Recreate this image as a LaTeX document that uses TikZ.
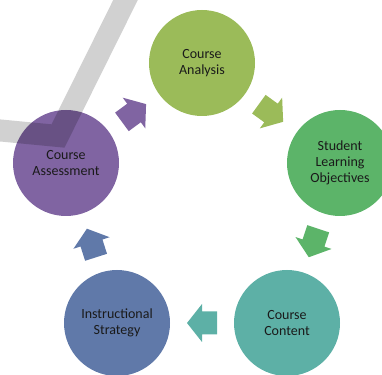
\documentclass[tikz,border=0pt]{standalone}
\usepackage{fontspec}
\setmainfont{Carlito}
\definecolor{AnalysisGreen}{HTML}{9BBB59}
\definecolor{ObjectiveGreen}{HTML}{5CB469}
\definecolor{ContentTeal}{HTML}{5DB0A6}
\definecolor{StrategyBlue}{HTML}{6079A9}
\definecolor{AssessPurple}{HTML}{8064A2}
\definecolor{LabelInk}{HTML}{1A1A1A}
\usetikzlibrary{calc}
\tikzset{
  stageNode/.style={circle, minimum size=106pt, inner sep=0pt, align=center, text=LabelInk, font=\fontsize{14}{16}\selectfont},
  cycleArrow/.pic={\fill[pic actions] (-15,-11.5) -- (0,-11.5) -- (0,-19) -- (15,0) -- (0,19) -- (0,11.5) -- (-15,11.5) -- cycle;},
  bandLine/.style={line width=22pt, black, opacity=0.18, line join=miter}
}

\begin{document}
\begin{tikzpicture}[x=1pt, y=1pt]
\useasboundingbox (0,0) rectangle (382,374);
% five stages of the cycle
\node[stageNode, fill=AnalysisGreen] (analysis) at (202,311) {Course\\Analysis};
\node[stageNode, fill=ObjectiveGreen] (objectives) at (340,211) {Student\\Learning\\Objectives};
\node[stageNode, fill=ContentTeal] (content) at (287,51) {Course\\Content};
\node[stageNode, fill=StrategyBlue] (strategy) at (117,51) {Instructional\\Strategy};
\node[stageNode, fill=AssessPurple] (assessment) at (66,211) {Course\\Assessment};
% block arrows halfway between stages
\path (assessment) -- (analysis) pic[pos=0.5, sloped, allow upside down, fill=AssessPurple] {cycleArrow};
\path (analysis) -- (objectives) pic[pos=0.5, sloped, allow upside down, fill=AnalysisGreen] {cycleArrow};
\path (objectives) -- (content) pic[pos=0.5, sloped, allow upside down, fill=ObjectiveGreen] {cycleArrow};
\path (content) -- (strategy) pic[pos=0.5, sloped, allow upside down, fill=ContentTeal] {cycleArrow};
\path (strategy) -- (assessment) pic[pos=0.5, sloped, allow upside down, fill=StrategyBlue] {cycleArrow};
% grey stroke in the corner
\draw[bandLine] (-15,245) -- (58,238) -- (128,379);
\end{tikzpicture}
\end{document}
